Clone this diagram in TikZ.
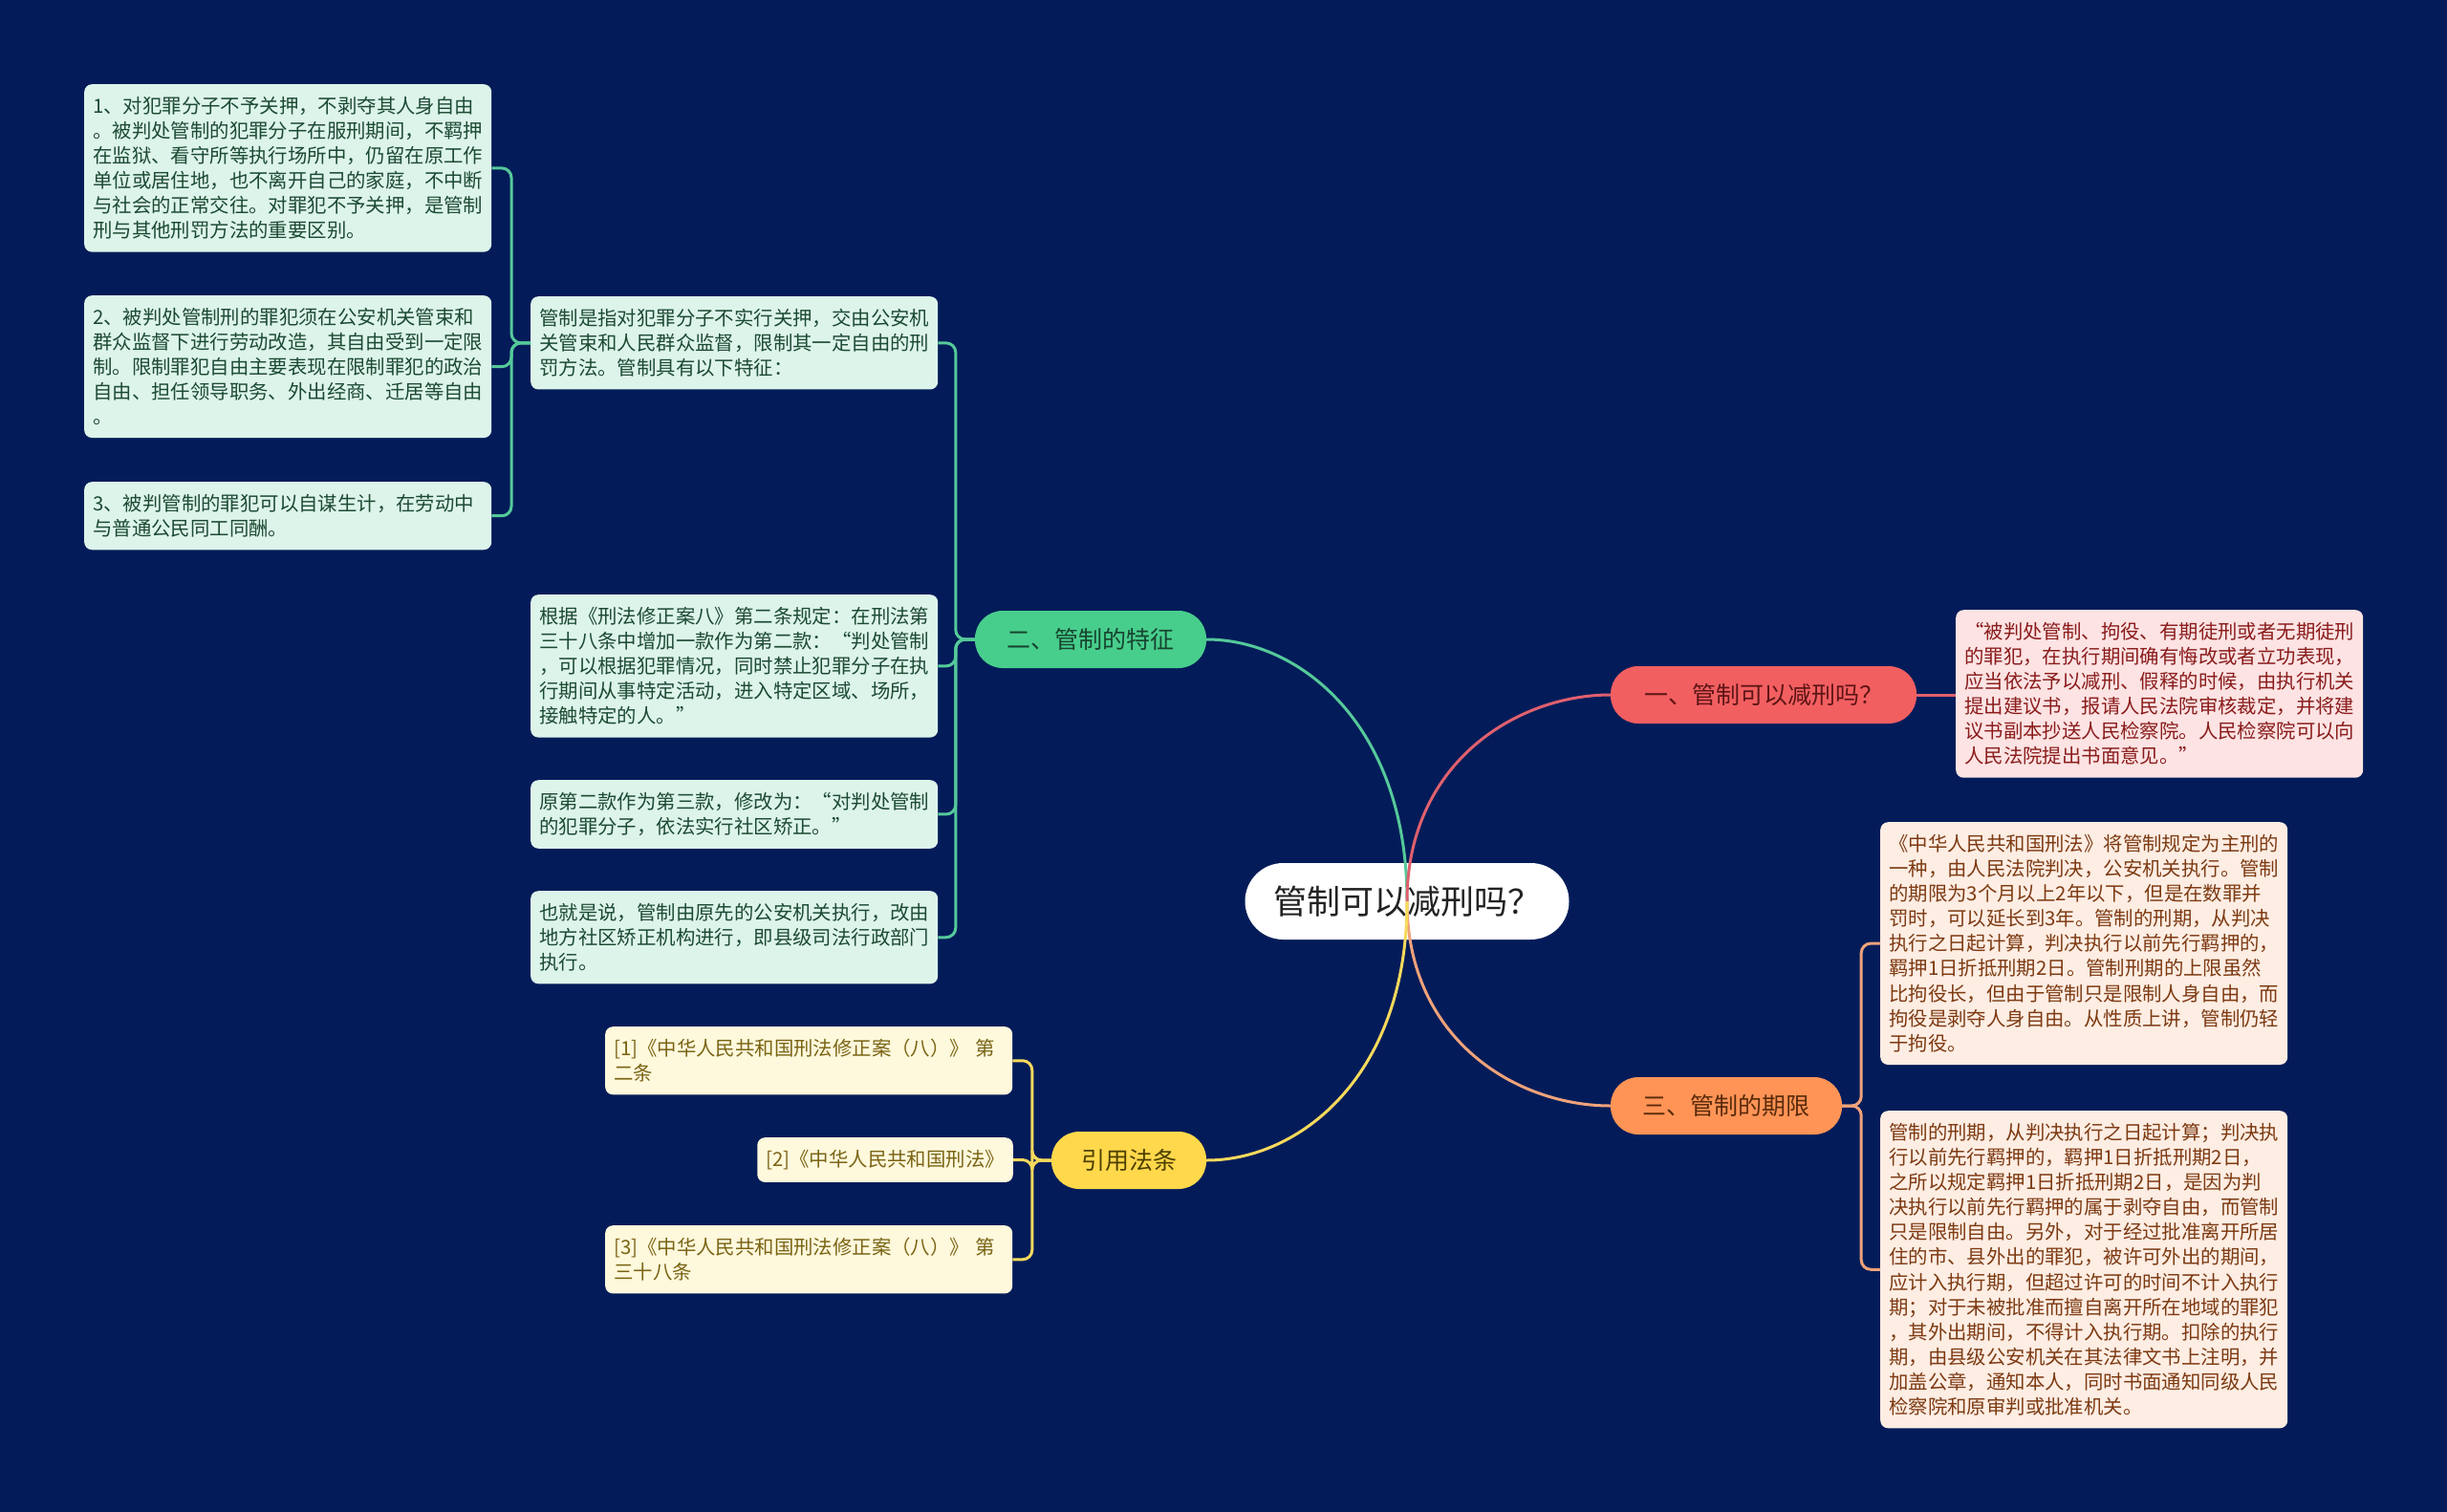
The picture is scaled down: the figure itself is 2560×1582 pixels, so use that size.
\documentclass[tikz,border=0pt]{standalone}
\usepackage{fontspec}
\setmainfont{Noto Sans CJK SC}
\usepackage{xcolor}
\usepackage{tikz}
\usetikzlibrary{positioning}
\definecolor{navy}{HTML}{031C59}
\definecolor{rootink}{HTML}{222222}
\definecolor{grnfill}{HTML}{48CE8C}
\definecolor{grnline}{HTML}{55C99A}
\definecolor{grnleaf}{HTML}{DDF4EA}
\definecolor{grnink}{HTML}{1C4A33}
\definecolor{grnhead}{HTML}{174530}
\definecolor{redfill}{HTML}{F25F61}
\definecolor{redline}{HTML}{E0606E}
\definecolor{redleaf}{HTML}{FDE3E3}
\definecolor{redink}{HTML}{8A1C1C}
\definecolor{redhead}{HTML}{5E1515}
\definecolor{orgfill}{HTML}{FF9456}
\definecolor{orgline}{HTML}{EFA27A}
\definecolor{orgleaf}{HTML}{FDEDE3}
\definecolor{orgink}{HTML}{7D3A12}
\definecolor{orghead}{HTML}{5A2A0A}
\definecolor{ylwfill}{HTML}{FFD84B}
\definecolor{ylwline}{HTML}{F6D95C}
\definecolor{ylwleaf}{HTML}{FEF8DC}
\definecolor{ylwink}{HTML}{7A6414}
\definecolor{ylwhead}{HTML}{4E3F00}

\begin{document}
\begin{tikzpicture}[x=1pt,y=-1pt,
  root/.style={fill=white,text=rootink,rounded corners=40pt,minimum width=339pt,
               minimum height=80pt,font=\fontsize{35}{40}\selectfont},
  branch/.style={rounded corners=29pt,minimum height=60pt,font=\fontsize{25}{30}\selectfont},
  leaf/.style={anchor=north west,rounded corners=8pt,text width=408pt,align=left,
               inner xsep=9pt,inner ysep=13pt,font=\fontsize{20.4}{26.1}\selectfont},
  link/.style={line width=3pt,rounded corners=10pt},
]
\fill[navy] (0,0) rectangle (2560,1582);
\useasboundingbox (0,0) rectangle (2560,1582);

% centre and main branches
\node[root] (root) at (1472,943) {管制可以减刑吗？};
\node[branch,fill=redfill,text=redhead,minimum width=320pt] (b1) at (1845,727) {一、管制可以减刑吗？};
\node[branch,fill=grnfill,text=grnhead,minimum width=242pt] (b2) at (1141,669) {二、管制的特征};
\node[branch,fill=orgfill,text=orghead,minimum width=242pt] (b3) at (1806,1157) {三、管制的期限};
\node[branch,fill=ylwfill,text=ylwhead,minimum width=162pt] (b4) at (1181,1214) {引用法条};

% left: features
\node[leaf,fill=grnleaf,text=grnink] (def) at (555,310)
  {管制是指对犯罪分子不实行关押，交由公安机\\
   关管束和人民群众监督，限制其一定自由的刑\\
   罚方法。管制具有以下特征：};
\node[leaf,fill=grnleaf,text=grnink] (tz1) at (88,88)
  {1、对犯罪分子不予关押，不剥夺其人身自由\\
   。被判处管制的犯罪分子在服刑期间，不羁押\\
   在监狱、看守所等执行场所中，仍留在原工作\\
   单位或居住地，也不离开自己的家庭，不中断\\
   与社会的正常交往。对罪犯不予关押，是管制\\
   刑与其他刑罚方法的重要区别。};
\node[leaf,fill=grnleaf,text=grnink] (tz2) at (88,309)
  {2、被判处管制刑的罪犯须在公安机关管束和\\
   群众监督下进行劳动改造，其自由受到一定限\\
   制。限制罪犯自由主要表现在限制罪犯的政治\\
   自由、担任领导职务、外出经商、迁居等自由\\
   。};
\node[leaf,fill=grnleaf,text=grnink] (tz3) at (88,504)
  {3、被判管制的罪犯可以自谋生计，在劳动中\\
   与普通公民同工同酬。};
\node[leaf,fill=grnleaf,text=grnink] (amend1) at (555,622)
  {根据《刑法修正案八》第二条规定：在刑法第\\
   三十八条中增加一款作为第二款：“判处管制\\
   ，可以根据犯罪情况，同时禁止犯罪分子在执\\
   行期间从事特定活动，进入特定区域、场所，\\
   接触特定的人。”};
\node[leaf,fill=grnleaf,text=grnink] (amend2) at (555,816)
  {原第二款作为第三款，修改为：“对判处管制\\
   的犯罪分子，依法实行社区矫正。”};
\node[leaf,fill=grnleaf,text=grnink] (amend3) at (555,932)
  {也就是说，管制由原先的公安机关执行，改由\\
   地方社区矫正机构进行，即县级司法行政部门\\
   执行。};

% left: cited laws
\node[leaf,fill=ylwleaf,text=ylwink] (ref1) at (633,1074)
  {[1]《中华人民共和国刑法修正案（八）》~第\\二条};
\node[leaf,fill=ylwleaf,text=ylwink,text width=,anchor=north east] (ref2) at (1060,1190)
  {[2]《中华人民共和国刑法》};
\node[leaf,fill=ylwleaf,text=ylwink] (ref3) at (633,1282)
  {[3]《中华人民共和国刑法修正案（八）》~第\\三十八条};

% right
\node[leaf,fill=redleaf,text=redink] (quote) at (2046,638)
  {“被判处管制、拘役、有期徒刑或者无期徒刑\\
   的罪犯，在执行期间确有悔改或者立功表现，\\
   应当依法予以减刑、假释的时候，由执行机关\\
   提出建议书，报请人民法院审核裁定，并将建\\
   议书副本抄送人民检察院。人民检察院可以向\\
   人民法院提出书面意见。”};
\node[leaf,fill=orgleaf,text=orgink] (term1) at (1967,860)
  {《中华人民共和国刑法》将管制规定为主刑的\\
   一种，由人民法院判决，公安机关执行。管制\\
   的期限为3个月以上2年以下，但是在数罪并\\
   罚时，可以延长到3年。管制的刑期，从判决\\
   执行之日起计算，判决执行以前先行羁押的，\\
   羁押1日折抵刑期2日。管制刑期的上限虽然\\
   比拘役长，但由于管制只是限制人身自由，而\\
   拘役是剥夺人身自由。从性质上讲，管制仍轻\\
   于拘役。};
\node[leaf,fill=orgleaf,text=orgink] (term2) at (1967,1162)
  {管制的刑期，从判决执行之日起计算；判决执\\
   行以前先行羁押的，羁押1日折抵刑期2日，\\
   之所以规定羁押1日折抵刑期2日，是因为判\\
   决执行以前先行羁押的属于剥夺自由，而管制\\
   只是限制自由。另外，对于经过批准离开所居\\
   住的市、县外出的罪犯，被许可外出的期间，\\
   应计入执行期，但超过许可的时间不计入执行\\
   期；对于未被批准而擅自离开所在地域的罪犯\\
   ，其外出期间，不得计入执行期。扣除的执行\\
   期，由县级公安机关在其法律文书上注明，并\\
   加盖公章，通知本人，同时书面通知同级人民\\
   检察院和原审判或批准机关。};

% junctions
\coordinate[left=20pt of b2] (b2j);
\coordinate[left=20pt of def] (defj);
\coordinate[left=20pt of b4] (b4j);
\coordinate[right=20pt of b3] (b3j);

% branch to leaves
\draw[link,grnline] (b2.west) -- (b2j) |- (def.east);
\draw[link,grnline] (b2.west) -- (b2j) |- (amend1.east);
\draw[link,grnline] (b2.west) -- (b2j) |- (amend2.east);
\draw[link,grnline] (b2.west) -- (b2j) |- (amend3.east);
\draw[link,grnline] (def.west) -- (defj) |- (tz1.east);
\draw[link,grnline] (def.west) -- (defj) |- (tz2.east);
\draw[link,grnline] (def.west) -- (defj) |- (tz3.east);
\draw[link,ylwline] (b4.west) -- (b4j) |- (ref1.east);
\draw[link,ylwline] (b4.west) -- (b4j) |- (ref2.east);
\draw[link,ylwline] (b4.west) -- (b4j) |- (ref3.east);
\draw[link,orgline] (b3.east) -- (b3j) |- (term1.west);
\draw[link,orgline] (b3.east) -- (b3j) |- (term2.west);
\draw[link,redline] (b1.east) -- (quote.west |- b1.east);

% centre to branches
\draw[line width=3pt,grnline] (root.center) .. controls +(0,-184) and +(98,0) .. (b2.east);
\draw[line width=3pt,redline] (root.center) .. controls +(0,-145) and +(-98,0) .. (b1.west);
\draw[line width=3pt,orgline] (root.center) .. controls +(0,145) and +(-98,0) .. (b3.west);
\draw[line width=3pt,ylwline] (root.center) .. controls +(0,182) and +(98,0) .. (b4.east);
\end{tikzpicture}
\end{document}
